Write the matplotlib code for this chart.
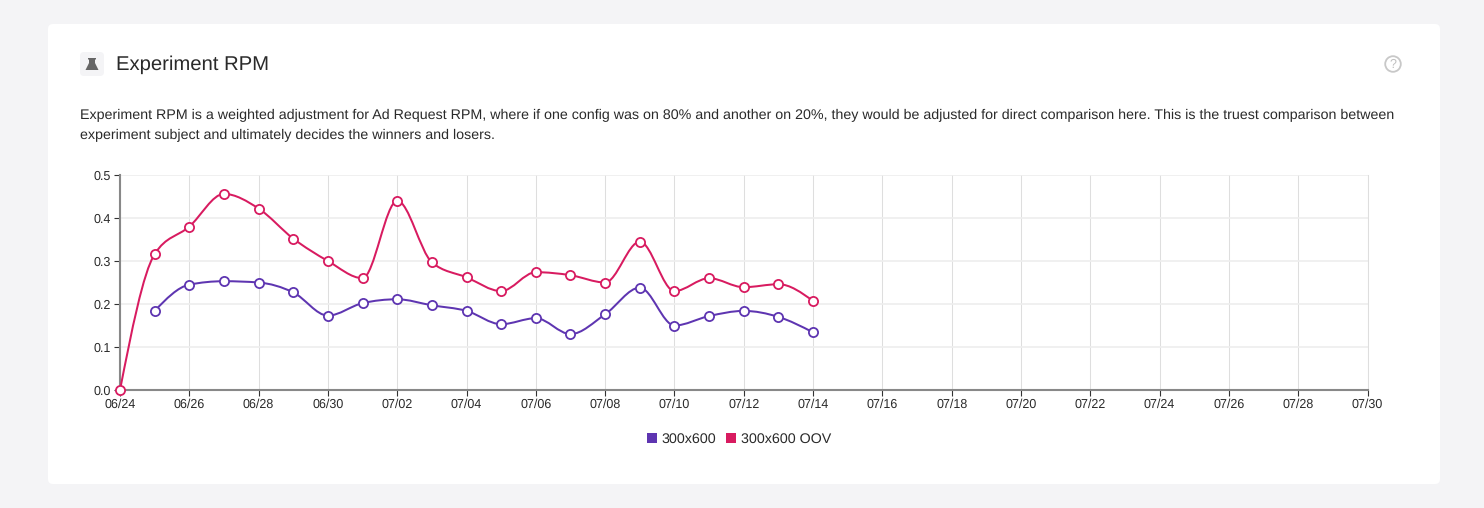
import numpy as np
import matplotlib
matplotlib.use("Agg")
import matplotlib.pyplot as plt
from matplotlib.patches import FancyBboxPatch, PathPatch, Circle, Polygon, Rectangle
from matplotlib.path import Path

plt.rcParams['font.family'] = ['Liberation Sans', 'DejaVu Sans']
plt.rcParams['text.hinting'] = 'no_hinting'

# Datos
days_oov = list(range(0, 21))
values_oov = [0.0, 0.316, 0.38, 0.456, 0.422, 0.352, 0.3, 0.26, 0.44, 0.297, 0.262,
              0.23, 0.274, 0.267, 0.25, 0.345, 0.23, 0.26, 0.239, 0.246, 0.207]
days_base = list(range(1, 21))
values_base = [0.184, 0.245, 0.253, 0.25, 0.227, 0.173, 0.202, 0.211, 0.197, 0.184,
               0.153, 0.167, 0.13, 0.176, 0.238, 0.15, 0.172, 0.184, 0.17, 0.134]
x_ticks = list(range(0, 37, 2))
x_labels = ["06/24", "06/26", "06/28", "06/30", "07/02", "07/04", "07/06", "07/08", "07/10",
            "07/12", "07/14", "07/16", "07/18", "07/20", "07/22", "07/24", "07/26", "07/28", "07/30"]
y_ticks = [0.0, 0.1, 0.2, 0.3, 0.4, 0.5]
y_labels = ["0.0", "0.1", "0.2", "0.3", "0.4", "0.5"]
title = "Experiment RPM"
desc_1 = ("Experiment RPM is a weighted adjustment for Ad Request RPM, where if one config was on 80% "
          "and another on 20%, they would be adjusted for direct comparison here. This is the truest comparison between")
desc_2 = "experiment subject and ultimately decides the winners and losers."

PURPLE = "#5e35b1"
RED = "#d81b60"
W, H = 1484, 508


# Curva monotona que pasa por los puntos
def smooth_path(x, y):
    n = len(x)
    h = [x[i + 1] - x[i] for i in range(n - 1)]
    s = [(y[i + 1] - y[i]) / h[i] for i in range(n - 1)]
    t = [0.0] * n
    for i in range(1, n - 1):
        p = (s[i - 1] * h[i] + s[i] * h[i - 1]) / (h[i - 1] + h[i])
        t[i] = (np.sign(s[i - 1]) + np.sign(s[i])) * min(abs(s[i - 1]), abs(s[i]), 0.5 * abs(p))
    t[0] = (3 * s[0] - t[1]) / 2
    t[-1] = (3 * s[-1] - t[-2]) / 2
    verts = [(x[0], y[0])]
    codes = [Path.MOVETO]
    for i in range(n - 1):
        d = h[i] / 3
        verts += [(x[i] + d, y[i] + d * t[i]), (x[i + 1] - d, y[i + 1] - d * t[i + 1]), (x[i + 1], y[i + 1])]
        codes += [Path.CURVE4] * 3
    return Path(verts, codes)


fig = plt.figure(figsize=(W / 100, H / 100), dpi=100, facecolor="#f4f4f6")

# Capa de fondo en pixeles
bg = fig.add_axes([0, 0, 1, 1])
bg.set_xlim(0, W)
bg.set_ylim(H, 0)
bg.axis("off")
bg.add_patch(FancyBboxPatch((48, 24), 1392, 460, boxstyle="round,pad=0,rounding_size=5",
                            fc="white", ec="none"))
bg.add_patch(FancyBboxPatch((80, 52), 24, 24, boxstyle="round,pad=0,rounding_size=4",
                            fc="#f4f4f6", ec="none"))
# Icono del matraz
bg.add_patch(Polygon([(88, 58), (96, 58), (96, 59.5), (95, 59.5), (95, 63), (98.5, 70),
                      (85.5, 70), (89, 63), (89, 59.5), (88, 59.5)], closed=True,
                     fc="#666666", ec="none"))
# Icono de ayuda
bg.add_patch(Circle((1393, 64), 7.8, fc="none", ec="#c8c8c8", lw=1.3))
bg.text(1393, 64.5, "?", color="#c0c0c0", fontsize=9, ha="center", va="center")

bg.text(116, 65, title, color="#2a2a2a", fontsize=14.6, ha="left", va="center")
bg.text(80, 115, desc_1, color="#2a2a2a", fontsize=10.28, ha="left", va="center")
bg.text(80, 135, desc_2, color="#2a2a2a", fontsize=10.28, ha="left", va="center")

# Leyenda
bg.add_patch(Rectangle((647, 433), 10, 10, fc=PURPLE, ec="none"))
bg.text(661, 439, "300x600", color="#2a2a2a", fontsize=10.3, ha="left", va="center")
bg.add_patch(Rectangle((726, 433), 10, 10, fc=RED, ec="none"))
bg.text(741, 439, "300x600 OOV", color="#2a2a2a", fontsize=10.3, ha="left", va="center")

# Grafica principal
x0, x1, y_top, y_bot = 120, 1367.5, 175, 390
ax = fig.add_axes([x0 / W, 1 - y_bot / H, (x1 - x0) / W, (y_bot - y_top) / H])
ax.patch.set_alpha(0)
ax.set_xlim(0, 36)
ax.set_ylim(0, 0.5)
ax.set_xticks(x_ticks)
ax.set_xticklabels(x_labels)
ax.set_yticks(y_ticks)
ax.set_yticklabels(y_labels, va="center_baseline")
ax.tick_params(axis="both", labelsize=9, length=4, width=0.8, color="#333333",
               labelcolor="#2a2a2a", pad=2.5)
ax.tick_params(axis="x", pad=2)
ax.grid(axis="x", color="#dedede", lw=0.75)
ax.grid(axis="y", color="#eeeeee", lw=1.2)
ax.set_axisbelow(True)
ax.spines["top"].set_visible(False)
ax.spines["right"].set_color("#dedede")
ax.spines["right"].set_linewidth(0.75)
ax.spines["left"].set_color("#888888")
ax.spines["bottom"].set_color("#888888")
ax.spines["left"].set_linewidth(1.5)
ax.spines["bottom"].set_linewidth(1.5)

for days, vals, c, z in [(days_base, values_base, PURPLE, 3), (days_oov, values_oov, RED, 4)]:
    ax.add_patch(PathPatch(smooth_path(days, vals), fc="none", ec=c, lw=1.45, zorder=z))
    ax.plot(days, vals, ls="none", marker="o", ms=6.6, mfc="white", mec=c, mew=1.3,
            zorder=z + 0.5, clip_on=False)

fig.savefig("out.png", dpi=100, facecolor=fig.get_facecolor())
